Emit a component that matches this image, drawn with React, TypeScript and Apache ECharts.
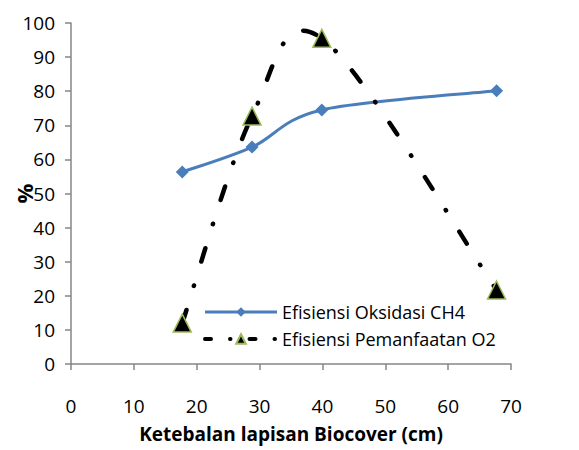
import React, { useEffect, useRef } from "react";
import * as echarts from "echarts";

const xValues = [17.7, 28.8, 39.9, 67.7];
const ch4Values = [56.3, 63.6, 74.5, 80.1];
const o2Values = [12.0, 72.7, 95.5, 21.7];
const seriesNames = ["Efisiensi Oksidasi CH4", "Efisiensi Pemanfaatan O2"];
const xAxisTitle = "Ketebalan lapisan Biocover (cm)";
const yAxisTitle = "%";

const BLUE = "#4a7ebb";
const O2_DASH = [14, 25, 0.5, 25];

// Smooth curve through all points (Catmull-Rom style, like spreadsheet smoothing),
// points are converted to pixels by the chart's own axes via api.coord.
function makeCurveRenderer(n: number, stroke: string, width: number, dash: number[] | null) {
  return (params: any, api: any) => {
    if (params.dataIndexInside !== 0) return null;
    const pts: number[][] = [];
    for (let i = 0; i < n; i++) {
      pts.push(api.coord([api.value(0, i), api.value(1, i)]));
    }
    let d = `M${pts[0][0]},${pts[0][1]}`;
    for (let i = 0; i < n - 1; i++) {
      const p0 = pts[i - 1] || pts[i];
      const p1 = pts[i];
      const p2 = pts[i + 1];
      const p3 = pts[i + 2] || pts[i + 1];
      const c1x = p1[0] + (p2[0] - p0[0]) / 6;
      const c1y = p1[1] + (p2[1] - p0[1]) / 6;
      const c2x = p2[0] - (p3[0] - p1[0]) / 6;
      const c2y = p2[1] - (p3[1] - p1[1]) / 6;
      d += ` C${c1x},${c1y} ${c2x},${c2y} ${p2[0]},${p2[1]}`;
    }
    return {
      type: "path",
      shape: { pathData: d },
      style: {
        fill: "none",
        stroke,
        lineWidth: width,
        lineDash: dash || undefined,
        lineCap: "round",
        lineJoin: "round",
      },
    };
  };
}

export default function App() {
  const ref = useRef<HTMLDivElement>(null);
  useEffect(() => {
    document.body.style.margin = "0";
    const chart = echarts.init(ref.current!, null, { renderer: "svg" });
    const font = "'Open Sans', 'Noto Sans', sans-serif";
    const axisLine = { lineStyle: { color: "#868686", width: 1.5 } };
    const ch4Data = xValues.map((x, i) => [x, ch4Values[i]]);
    const o2Data = xValues.map((x, i) => [x, o2Values[i]]);
    chart.setOption({
      animation: false,
      backgroundColor: "#ffffff",
      textStyle: { fontFamily: font },
      grid: { left: 71, right: 68, top: 23, bottom: 86, outerBoundsMode: "none", containLabel: false },
      legend: {
        left: 198,
        top: 298,
        orient: "vertical",
        itemWidth: 72,
        itemHeight: 12,
        itemGap: 9,
        textStyle: { fontSize: 18, color: "#000", fontFamily: font },
        data: [
          {
            name: seriesNames[0],
            lineStyle: { color: BLUE, width: 3, opacity: 1, type: "solid" },
          },
          {
            name: seriesNames[1],
            lineStyle: { color: "#000", width: 4, opacity: 1, type: [6, 19, 0.5, 19], cap: "round" },
          },
        ],
      },
      xAxis: {
        type: "value",
        min: 0,
        max: 70,
        interval: 10,
        name: xAxisTitle,
        nameLocation: "middle",
        nameGap: 60,
        nameMoveOverlap: false,
        nameTextStyle: { fontSize: 19, fontWeight: "bold", color: "#000", fontFamily: font },
        axisLine,
        axisTick: { show: true, length: 6, lineStyle: { color: "#868686", width: 1.5 } },
        axisLabel: { fontSize: 19, color: "#000", margin: 32, fontFamily: font },
        splitLine: { show: false },
      },
      yAxis: {
        type: "value",
        min: 0,
        max: 100,
        interval: 10,
        name: yAxisTitle,
        nameLocation: "middle",
        nameRotate: 90,
        nameGap: 36,
        nameMoveOverlap: false,
        nameTextStyle: { fontSize: 22, fontWeight: "bold", color: "#000", fontFamily: font },
        axisLine: { show: true, ...axisLine },
        axisTick: { show: true, length: 6, lineStyle: { color: "#868686", width: 1.5 } },
        axisLabel: { fontSize: 19, color: "#000", margin: 16, fontFamily: font },
        splitLine: { show: false },
      },
      series: [
        {
          name: "ch4-curve",
          type: "custom",
          coordinateSystem: "cartesian2d",
          encode: { x: 0, y: 1 },
          data: ch4Data,
          z: 1,
          silent: true,
          renderItem: makeCurveRenderer(ch4Data.length, BLUE, 3, null),
        },
        {
          name: "o2-curve",
          type: "custom",
          coordinateSystem: "cartesian2d",
          encode: { x: 0, y: 1 },
          data: o2Data,
          z: 1,
          silent: true,
          renderItem: makeCurveRenderer(o2Data.length, "#000", 4.5, O2_DASH),
        },
        {
          name: seriesNames[0],
          type: "line",
          data: ch4Data,
          z: 3,
          symbol: "diamond",
          symbolSize: 13,
          lineStyle: { color: BLUE, width: 3, opacity: 0 },
          itemStyle: { color: BLUE },
        },
        {
          name: seriesNames[1],
          type: "line",
          data: o2Data,
          z: 4,
          symbol: "triangle",
          symbolSize: 18,
          lineStyle: { color: "#000", width: 4, opacity: 0 },
          itemStyle: { color: "#000", borderColor: "#9bbb59", borderWidth: 1.5 },
        },
      ],
    });
    return () => chart.dispose();
  }, []);
  return <div ref={ref} style={{ width: 579, height: 450 }} />;
}
